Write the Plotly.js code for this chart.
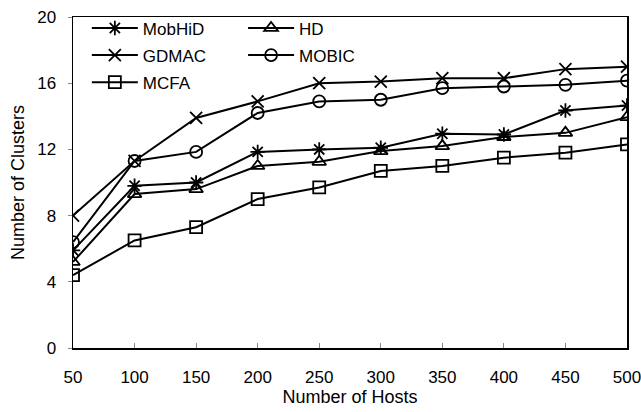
<!DOCTYPE html>
<html>
<head>
<meta charset="utf-8">
<script src="https://cdn.plot.ly/plotly-3.0.1.min.js"></script>
<style>html,body{margin:0;padding:0;background:#fff;}#chart{width:641px;height:412px;}</style>
</head>
<body>
<div id="chart"></div>
<script>
const hosts = [50, 100, 150, 200, 250, 300, 350, 400, 450, 500];
const mobhid = [5.9, 9.8, 10.0, 11.85, 12.0, 12.1, 12.95, 12.9, 14.35, 14.65];
const hd = [5.2, 9.3, 9.6, 11.0, 11.25, 11.9, 12.2, 12.75, 13.0, 13.95];
const gdmac = [8.0, 11.3, 13.9, 14.9, 16.0, 16.1, 16.3, 16.3, 16.85, 17.0];
const mobic = [6.4, 11.3, 11.85, 14.2, 14.9, 15.0, 15.7, 15.8, 15.9, 16.15];
const mcfa = [4.4, 6.5, 7.3, 9.0, 9.7, 10.7, 11.0, 11.5, 11.8, 12.3];
const yTicks = [0, 4, 8, 12, 16, 20];

function tr(name, y, symbol, legend) {
  return {
    x: hosts, y: y, name: name, type: 'scatter', mode: 'lines+markers',
    line: {color: '#000', width: 2},
    marker: {symbol: symbol, size: 12, color: '#000', line: {color: '#000', width: 1.8}},
    legend: legend, legendgroup: name
  };
}
const data = [
  tr('MobHiD', mobhid, 'asterisk-open', 'legend'),
  tr('GDMAC', gdmac, 'x-thin-open', 'legend'),
  tr('MCFA', mcfa, 'square-open', 'legend'),
  tr('HD', hd, 'triangle-up-open', 'legend2'),
  tr('MOBIC', mobic, 'circle-open', 'legend2')
];
const font = {family: 'Liberation Sans, Arial, sans-serif', size: 17, color: '#000'};
const legendCommon = {
  xref: 'paper', yref: 'paper', xanchor: 'left', yanchor: 'top',
  bgcolor: 'rgba(0,0,0,0)', borderwidth: 0,
  font: {family: font.family, size: 17, color: '#000'}, itemwidth: 46,
  traceorder: 'grouped', tracegroupgap: 2
};
const layout = {
  width: 641, height: 412,
  margin: {l: 73, r: 14, t: 17, b: 64, autoexpand: false},
  paper_bgcolor: '#fff', plot_bgcolor: '#fff',
  font: font,
  showlegend: true,
  legend: Object.assign({x: 0.025, y: 1.02}, legendCommon),
  legend2: Object.assign({x: 0.307, y: 1.02}, legendCommon),
  xaxis: {
    range: [49.99, 500.01], tickvals: hosts, ticktext: hosts.map(String),
    showgrid: false, zeroline: false,
    showline: true, linecolor: '#000', linewidth: 1.5, mirror: true,
    ticks: 'inside', ticklen: 5, tickcolor: '#888', tickwidth: 1,
    ticklabelstandoff: 13, ticklabeloverflow: 'allow',
    tickfont: font,
    title: {text: 'Number of Hosts', font: {family: font.family, size: 18, color: '#000'}, standoff: 4}
  },
  yaxis: {
    range: [0, 20], tickvals: yTicks, ticktext: yTicks.map(String),
    showgrid: false, zeroline: false,
    showline: true, linecolor: '#000', linewidth: 1.5, mirror: true,
    ticks: 'outside', ticklen: 4, tickcolor: '#888', tickwidth: 1,
    ticklabelstandoff: 8,
    tickfont: font,
    title: {text: 'Number of Clusters', font: {family: font.family, size: 18, color: '#000'}, standoff: 8}
  }
};
Plotly.newPlot('chart', data, layout, {displayModeBar: false, staticPlot: true});
</script>
</body>
</html>
